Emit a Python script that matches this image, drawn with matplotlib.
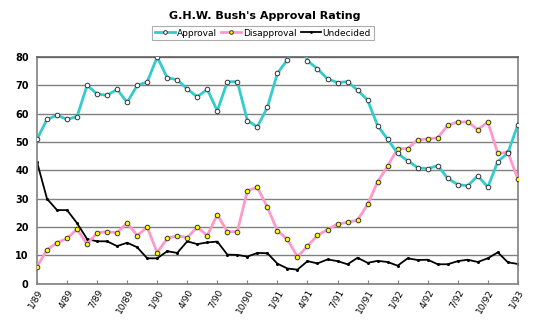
import numpy as np
import matplotlib.pyplot as plt

# monthly poll results, Jan 1989 - Jan 1993
approval = [51, 58, 59.5, 58, 59, 70, 67, 66.5, 68.6, 64, 70, 71.2,
            80, 72.7, 72, 68.7, 66, 68.6, 61, 71.3, 71.3, 57.6, 55.4, 62.3,
            74.3, 79, 89, 78.7, 75.8, 72.3, 71, 71.3, 68.3, 64.8, 55.8, 51,
            46, 43.4, 41, 40.6, 41.7, 37.2, 35, 34.6, 38.1, 34.1, 43.1, 46.2,
            56.1]
disapproval = [6, 12, 14.5, 16, 19.3, 14, 18, 18.4, 18, 21.5, 17, 20,
               11, 16, 17, 16.3, 20, 17, 24.4, 18.4, 18.4, 32.9, 34, 27,
               18.7, 15.7, 9.5, 13.3, 17.1, 19.1, 21.1, 21.7, 22.5, 28, 36, 41.5,
               47.7, 47.7, 50.8, 51.1, 51.5, 55.9, 57.1, 57.1, 54.4, 57.1, 46, 46.4,
               37]
undecided = [43, 30, 26, 26, 21.4, 15.8, 15, 15, 13.3, 14.5, 12.9, 9,
             9, 11.5, 10.9, 15, 14, 14.6, 14.9, 10.3, 10.2, 9.6, 10.9, 10.8,
             7.1, 5.4, 5, 8, 7.2, 8.6, 8, 6.9, 9.2, 7.4, 8.1, 7.7,
             6.4, 9, 8.4, 8.5, 6.9, 6.9, 8, 8.5, 7.7, 9, 11.1, 7.6,
             7]
tick_labels = ["1/89", "4/89", "7/89", "10/89", "1/90", "4/90", "7/90", "10/90",
               "1/91", "4/91", "7/91", "10/91", "1/92", "4/92", "7/92", "10/92",
               "1/93"]

months = np.arange(len(approval))

fig = plt.figure(figsize=(5.4, 3.24), dpi=100)
ax = fig.add_axes([0.0685, 0.124, 0.8905, 0.7])

ax.plot(months, approval, color="#33CCCC", lw=2.0, marker="o", ms=3.3,
        mfc="white", mec="#333333", mew=0.7, label="Approval", zorder=4)
ax.plot(months, disapproval, color="#FF99CC", lw=2.0, marker="o", ms=3.3,
        mfc="#FFFF00", mec="#333333", mew=0.7, label="Disapproval", zorder=3)
ax.plot(months, undecided, color="black", lw=1.3, marker="o", ms=1.2,
        label="Undecided", zorder=2)

ax.set_xlim(0, len(approval) - 1)
ax.set_ylim(0, 80)
ax.set_yticks(np.arange(0, 81, 10))
ax.set_xticks(np.arange(0, len(approval), 3))
ax.set_xticklabels(tick_labels, rotation=60, ha="right", rotation_mode="anchor",
                   fontsize=6.5)
for lbl in ax.get_yticklabels():
    lbl.set_fontweight("bold")
    lbl.set_fontsize(7)

ax.grid(axis="y", color="#808080", lw=1)
ax.set_axisbelow(True)
ax.tick_params(axis="y", length=0, pad=6)
ax.tick_params(axis="x", direction="in", length=3, color="#808080", pad=3)
for side in ["left", "bottom", "right"]:
    ax.spines[side].set_color("#808080")
    ax.spines[side].set_linewidth(1.2)
ax.spines["top"].set_color("#606060")
ax.spines["top"].set_linewidth(1.2)

fig.suptitle("G.H.W. Bush's Approval Rating", fontsize=8, fontweight="bold",
             x=0.49, y=0.965)
leg = fig.legend(loc="center", bbox_to_anchor=(0.487, 0.898), ncol=3,
                 fontsize=6.5, frameon=True, fancybox=False, borderpad=0.3,
                 handlelength=2.2, handletextpad=0.2, columnspacing=0.5,
                 markerscale=0.8)
leg.get_frame().set_edgecolor("#999999")
leg.get_frame().set_linewidth(0.8)

fig.savefig("out.png", dpi=100)
